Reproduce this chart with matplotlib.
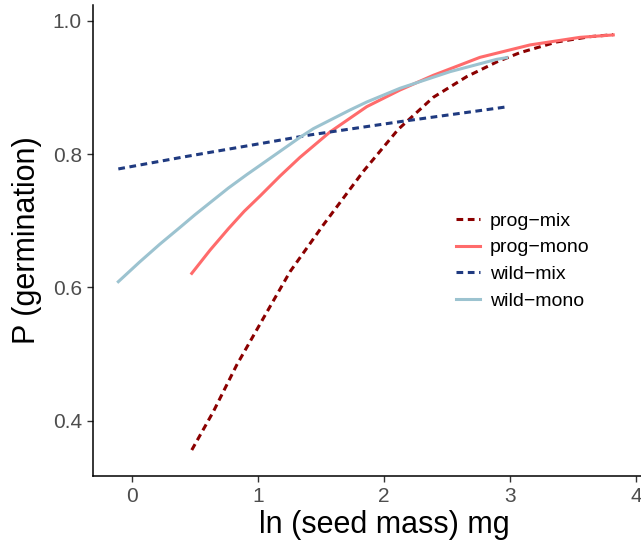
import matplotlib
matplotlib.use("Agg")
import matplotlib.pyplot as plt

plt.rcParams['font.family'] = ['Liberation Sans', 'DejaVu Sans']

# data
prog_mix_x = [0.474, 0.645, 0.831, 1.042, 1.254, 1.518, 1.836, 2.113, 2.391, 2.656, 2.894, 3.079, 3.37, 3.635, 3.82]
prog_mix_y = [0.356, 0.4135, 0.4836, 0.5536, 0.6235, 0.6936, 0.774, 0.837, 0.885, 0.916, 0.938, 0.952, 0.968, 0.976, 0.979]

prog_mono_x = [0.474, 0.62, 0.765, 0.89, 1.016, 1.175, 1.333, 1.571, 1.863, 2.127, 2.391, 2.762, 3.159, 3.556, 3.82]
prog_mono_y = [0.621, 0.656, 0.688, 0.714, 0.737, 0.767, 0.795, 0.833, 0.871, 0.896, 0.918, 0.945, 0.9636, 0.975, 0.9786]

wild_mix_x = [-0.109, 0.421, 1.413, 2.127, 2.894, 2.968]
wild_mix_y = [0.7776, 0.796, 0.8286, 0.8485, 0.8686, 0.8706]

wild_mono_x = [-0.109, 0.06, 0.222, 0.381, 0.5, 0.619, 0.765, 0.910, 1.016, 1.333, 1.439, 1.73, 1.863, 2.127, 2.524, 2.894, 2.973]
wild_mono_y = [0.6085, 0.638, 0.665, 0.690, 0.709, 0.727, 0.749, 0.769, 0.783, 0.825, 0.838, 0.866, 0.878, 0.8986, 0.9235, 0.942, 0.9445]

fig = plt.figure(figsize=(6.41, 5.48), dpi=100)
# the reference panel runs past the right edge of the image (tick "4" is clipped)
ax = fig.add_axes([93/641, 1 - 475.7/548, (675 - 93)/641, (475.7 - 5)/548])

lw = 2.2
dash = (0, (2.2, 1.5))
ax.plot(prog_mix_x, prog_mix_y, color='#8B0000', lw=lw, ls=dash, label='prog\u2212mix')
ax.plot(prog_mono_x, prog_mono_y, color='#FF6B6B', lw=lw, label='prog\u2212mono')
ax.plot(wild_mix_x, wild_mix_y, color='#1F3A80', lw=lw, ls=dash, label='wild\u2212mix')
ax.plot(wild_mono_x, wild_mono_y, color='#9CC3D0', lw=lw, label='wild\u2212mono')

ax.set_xlim(-0.31, 4.31)
ax.set_ylim(0.3175, 1.0235)
ax.set_xticks([0, 1, 2, 3, 4])
ax.set_yticks([0.4, 0.6, 0.8, 1.0])
ax.set_yticklabels(['0.4', '0.6', '0.8', '1.0'])

for s in ['top', 'right']:
    ax.spines[s].set_visible(False)
for s in ['left', 'bottom']:
    ax.spines[s].set_linewidth(1.1)
    ax.spines[s].set_color('black')
ax.tick_params(axis='both', direction='out', length=4, width=1.0, color='#333333',
               labelsize=15, labelcolor='#4D4D4D', pad=4)

ax.set_xlabel('ln (seed mass) mg', fontsize=22, color='black', labelpad=3)
ax.set_ylabel('P (germination)', fontsize=22, color='black', labelpad=8)

leg = ax.legend(loc='center left', bbox_to_anchor=((448 - 93)/582, 1 - (261 - 5)/470.7),
                borderaxespad=0, frameon=False,
                fontsize=14, handlelength=1.25, handletextpad=0.5, labelspacing=0.47)

fig.savefig('out.png', dpi=100)
